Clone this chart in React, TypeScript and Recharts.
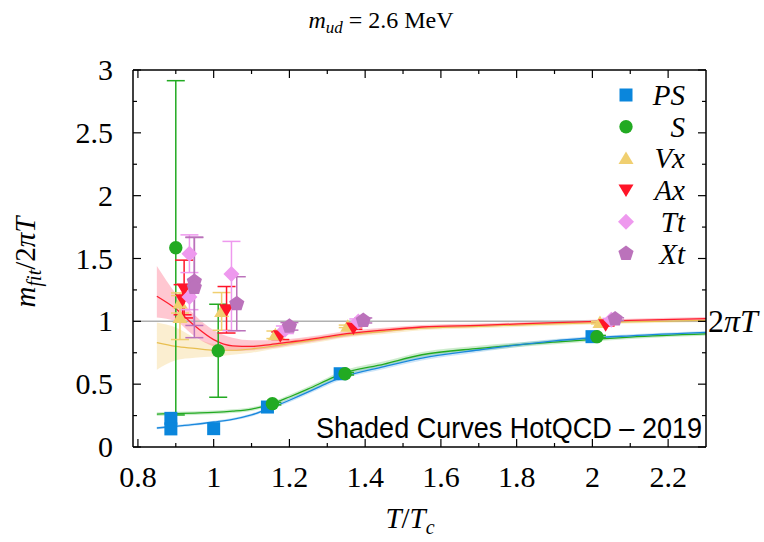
import React from 'react';
import { ComposedChart, Area, Line, Scatter, ErrorBar, XAxis, YAxis, ReferenceLine } from 'recharts';

// HotQCD screening-mass curves (T/Tc grid, central values and bands)
const curveT = [0.85, 0.9, 0.95, 1.0, 1.05, 1.1, 1.15, 1.2, 1.25, 1.3, 1.334, 1.45, 1.55, 1.7, 1.9, 2.1, 2.3];
const redMid = [1.2, 1.1, 0.965, 0.855, 0.805, 0.8, 0.815, 0.835, 0.855, 0.878, 0.894, 0.93, 0.955, 0.968, 0.99, 1.008, 1.022];
const redLo = [1.03, 1.0, 0.88, 0.8, 0.765, 0.77, 0.785, 0.81, 0.832, 0.855, 0.872, 0.912, 0.94, 0.955, 0.978, 0.996, 1.01];
const redHi = [1.44, 1.22, 1.05, 0.93, 0.87, 0.85, 0.85, 0.86, 0.878, 0.9, 0.916, 0.948, 0.97, 0.982, 1.002, 1.02, 1.034];
const yelMid = [0.83, 0.8, 0.785, 0.77, 0.77, 0.78, 0.8, 0.825, 0.845, 0.868, 0.885, 0.92, 0.945, 0.96, 0.98, 0.995, 1.008];
const yelLo = [0.615, 0.69, 0.71, 0.72, 0.735, 0.75, 0.775, 0.8, 0.822, 0.846, 0.865, 0.9, 0.93, 0.945, 0.965, 0.982, 0.995];
const yelHi = [0.99, 0.95, 0.87, 0.82, 0.805, 0.81, 0.825, 0.85, 0.868, 0.89, 0.905, 0.94, 0.96, 0.975, 0.995, 1.008, 1.02];
const grnMid = [0.262, 0.266, 0.27, 0.275, 0.285, 0.302, 0.34, 0.398, 0.462, 0.532, 0.578, 0.66, 0.734, 0.785, 0.835, 0.875, 0.9];
const grnErr = [0.015, 0.015, 0.015, 0.015, 0.015, 0.015, 0.015, 0.018, 0.02, 0.02, 0.02, 0.022, 0.022, 0.02, 0.018, 0.015, 0.015];
const bluMid = [0.151, 0.165, 0.18, 0.199, 0.22, 0.255, 0.31, 0.372, 0.438, 0.508, 0.55, 0.64, 0.708, 0.772, 0.845, 0.885, 0.912];
const bluErr = [0.01, 0.01, 0.01, 0.01, 0.01, 0.012, 0.012, 0.015, 0.016, 0.018, 0.018, 0.02, 0.02, 0.018, 0.015, 0.012, 0.012];

// lattice screening masses m_fit / 2piT per channel
const psT = [0.887, 0.887, 1.0, 1.142, 1.334, 1.999];
const psM = [0.228, 0.144, 0.146, 0.318, 0.583, 0.878];
const sT = [0.9, 1.012, 1.155, 1.347, 2.012];
const sM = [1.585, 0.766, 0.345, 0.583, 0.878];
const sErr = [1.33, 0.37, 0.01, 0.01, 0.01];
const vxT = [0.911, 0.911, 1.021, 1.163, 1.354, 2.02];
const vxM = [1.146, 1.03, 1.079, 0.893, 0.96, 0.99];
const vxErr = [0.08, 0.175, 0.15, 0.03, 0.01, 0.01];
const axT = [0.922, 0.918, 1.034, 1.176, 1.369, 2.035];
const axM = [1.257, 1.172, 1.092, 0.885, 0.947, 0.973];
const axErr = [0.23, 0.12, 0.185, 0.03, 0.01, 0.01];
const ttT = [0.936, 0.936, 1.047, 1.188, 1.382, 2.05];
const ttM = [1.538, 1.193, 1.376, 0.933, 0.999, 1.013];
const ttErr: (number | number[])[] = [0.15, 0.1, [0.45, 0.26], 0.03, 0.02, 0.01];
const xtT = [0.949, 0.949, 1.061, 1.2, 1.395, 2.06];
const xtM = [1.317, 1.27, 1.14, 0.96, 1.007, 1.018];
const xtErr = [0.35, 0.4, 0.215, 0.03, 0.02, 0.01];

const xTicks = [0.8, 0.9, 1.0, 1.1, 1.2, 1.3, 1.4, 1.5, 1.6, 1.7, 1.8, 1.9, 2.0, 2.1, 2.2];
const yTicks = [0, 0.25, 0.5, 0.75, 1, 1.25, 1.5, 1.75, 2, 2.25, 2.5, 2.75, 3];

const C = {
  ps: '#0a86dc',
  s: '#22aa22',
  vx: '#f0cf70',
  ax: '#ff1428',
  tt: '#ee99ee',
  xt: '#bb72bb',
};

const SERIF = '"Liberation Serif", "DejaVu Serif", serif';
const serif = { fontFamily: SERIF };

const curves = curveT.map((x, i) => ({
  x,
  red: redMid[i],
  redBand: [redLo[i], redHi[i]],
  yel: yelMid[i],
  yelBand: [yelLo[i], yelHi[i]],
  grn: grnMid[i],
  grnBand: [grnMid[i] - grnErr[i], grnMid[i] + grnErr[i]],
  blu: bluMid[i],
  bluBand: [bluMid[i] - bluErr[i], bluMid[i] + bluErr[i]],
}));

const pts = (xs: number[], ys: number[], errs?: (number | number[])[]) =>
  xs.map((x, i) => ({ x, y: ys[i], err: errs ? errs[i] : 0 }));

// marker shapes, gnuplot style
const square = (cx: number, cy: number, fill: string) => (
  <rect x={cx - 6.5} y={cy - 6.5} width={13} height={13} fill={fill} />
);
const circle = (cx: number, cy: number, fill: string) => <circle cx={cx} cy={cy} r={6.7} fill={fill} />;
const triUp = (cx: number, cy: number, fill: string) => (
  <polygon points={`${cx},${cy - 7} ${cx - 7.5},${cy + 5.5} ${cx + 7.5},${cy + 5.5}`} fill={fill} />
);
const triDown = (cx: number, cy: number, fill: string) => (
  <polygon points={`${cx},${cy + 7} ${cx - 7.5},${cy - 5.5} ${cx + 7.5},${cy - 5.5}`} fill={fill} />
);
const diamond = (cx: number, cy: number, fill: string) => (
  <polygon points={`${cx},${cy - 8} ${cx + 8},${cy} ${cx},${cy + 8} ${cx - 8},${cy}`} fill={fill} />
);
const pentagon = (cx: number, cy: number, fill: string) => {
  const p = [0, 1, 2, 3, 4]
    .map((k) => {
      const a = -Math.PI / 2 + (k * 2 * Math.PI) / 5;
      return `${cx + 8 * Math.cos(a)},${cy + 8 * Math.sin(a)}`;
    })
    .join(' ');
  return <polygon points={p} fill={fill} />;
};

const shapeOf = (fn: typeof square, fill: string) => (p: any) => <g>{fn(p.cx, p.cy, fill)}</g>;

const isMajorX = (v: number) => Math.abs(v * 5 - Math.round(v * 5)) < 1e-6;
const isMajorY = (v: number) => Math.abs(v * 2 - Math.round(v * 2)) < 1e-6;
const fmt = (v: number) => String(Math.round(v * 10) / 10);

const BottomTick = (p: any) => {
  const v = p.payload.value;
  const major = isMajorX(v);
  return (
    <g>
      <line x1={p.x} x2={p.x} y1={p.y} y2={p.y - (major ? 8 : 4)} stroke="#000" strokeWidth={1.2} />
      {major && (
        <text x={p.x} y={p.y + 40} textAnchor="middle" style={serif} fontSize={30} fill="#000">
          {fmt(v)}
        </text>
      )}
    </g>
  );
};

const TopTick = (p: any) => {
  const major = isMajorX(p.payload.value);
  return <line x1={p.x} x2={p.x} y1={p.y} y2={p.y + (major ? 8 : 4)} stroke="#000" strokeWidth={1.2} />;
};

const LeftTick = (p: any) => {
  const v = p.payload.value;
  const major = isMajorY(v);
  return (
    <g>
      <line x1={p.x} x2={p.x + (major ? 8 : 4)} y1={p.y} y2={p.y} stroke="#000" strokeWidth={1.2} />
      {major && (
        <text x={p.x - 20} y={p.y + 10} textAnchor="end" style={serif} fontSize={30} fill="#000">
          {fmt(v)}
        </text>
      )}
    </g>
  );
};

const RightTick = (p: any) => {
  const major = isMajorY(p.payload.value);
  return <line x1={p.x} x2={p.x - (major ? 8 : 4)} y1={p.y} y2={p.y} stroke="#000" strokeWidth={1.2} />;
};

const TwoPiT = (p: any) => {
  const vb = p.viewBox || { x: 0, y: 0, width: 0 };
  return (
    <text x={vb.x + vb.width + 2} y={vb.y + 11} style={serif} fontSize={32} fill="#000">
      <tspan>2</tspan>
      <tspan fontStyle="italic">πT</tspan>
    </text>
  );
};

const legendRows = [
  { name: 'PS', fn: square, color: C.ps },
  { name: 'S', fn: circle, color: C.s },
  { name: 'Vx', fn: triUp, color: C.vx },
  { name: 'Ax', fn: triDown, color: C.ax },
  { name: 'Tt', fn: diamond, color: C.tt },
  { name: 'Xt', fn: pentagon, color: C.xt },
];

export default function App() {
  return (
    <div style={{ position: 'absolute', left: 0, top: 0, width: 764, height: 542, background: '#fff', fontFamily: SERIF }}>
      <ComposedChart width={764} height={542} data={curves} margin={{ top: 60, right: 48, bottom: 65, left: 73 }}>
        <XAxis
          dataKey="x"
          type="number"
          domain={[0.787, 2.3]}
          allowDataOverflow
          ticks={xTicks}
          interval={0}
          height={30}
          tickSize={0}
          tickMargin={0}
          tickLine={false}
          tick={<BottomTick />}
          axisLine={{ stroke: '#000', strokeWidth: 1.5 }}
        />
        <XAxis
          xAxisId="top"
          orientation="top"
          dataKey="x"
          type="number"
          domain={[0.787, 2.3]}
          allowDataOverflow
          ticks={xTicks}
          interval={0}
          height={10}
          tickSize={0}
          tickMargin={0}
          tickLine={false}
          tick={<TopTick />}
          axisLine={{ stroke: '#000', strokeWidth: 1.5 }}
        />
        <YAxis
          type="number"
          domain={[0, 3]}
          allowDataOverflow
          ticks={yTicks}
          interval={0}
          width={60}
          tickSize={0}
          tickMargin={0}
          tickLine={false}
          tick={<LeftTick />}
          axisLine={{ stroke: '#000', strokeWidth: 1.5 }}
        />
        <YAxis
          yAxisId="right"
          orientation="right"
          type="number"
          domain={[0, 3]}
          allowDataOverflow
          ticks={yTicks}
          interval={0}
          width={10}
          tickSize={0}
          tickMargin={0}
          tickLine={false}
          tick={<RightTick />}
          axisLine={{ stroke: '#000', strokeWidth: 1.5 }}
        />

        <Area dataKey="yelBand" type="monotone" stroke="none" fill="#f5d58a" fillOpacity={0.4} isAnimationActive={false} />
        <Area dataKey="redBand" type="monotone" stroke="none" fill="#ff5070" fillOpacity={0.32} isAnimationActive={false} />
        <Area dataKey="grnBand" type="monotone" stroke="none" fill="#22aa22" fillOpacity={0.22} isAnimationActive={false} />
        <Area dataKey="bluBand" type="monotone" stroke="none" fill="#1a88dd" fillOpacity={0.22} isAnimationActive={false} />

        <ReferenceLine y={1} stroke="#b0b0b0" strokeWidth={1.5} label={<TwoPiT />} />

        <Line dataKey="yel" type="monotone" stroke="#e8bf50" strokeWidth={1.2} dot={false} isAnimationActive={false} />
        <Line dataKey="red" type="monotone" stroke="#ff1e2e" strokeWidth={1.3} dot={false} isAnimationActive={false} />
        <Line dataKey="grn" type="monotone" stroke="#22aa22" strokeWidth={1.3} dot={false} isAnimationActive={false} />
        <Line dataKey="blu" type="monotone" stroke="#1a88dd" strokeWidth={1.3} dot={false} isAnimationActive={false} />

        <Scatter data={pts(psT, psM)} dataKey="y" shape={shapeOf(square, C.ps)} isAnimationActive={false} />
        <Scatter data={pts(sT, sM, sErr)} dataKey="y" shape={shapeOf(circle, C.s)} isAnimationActive={false}>
          <ErrorBar dataKey="err" direction="y" width={9} stroke={C.s} strokeWidth={1.5} />
        </Scatter>
        <Scatter data={pts(vxT, vxM, vxErr)} dataKey="y" shape={shapeOf(triUp, C.vx)} isAnimationActive={false}>
          <ErrorBar dataKey="err" direction="y" width={9} stroke={C.vx} strokeWidth={1.5} />
        </Scatter>
        <Scatter data={pts(axT, axM, axErr)} dataKey="y" shape={shapeOf(triDown, C.ax)} isAnimationActive={false}>
          <ErrorBar dataKey="err" direction="y" width={9} stroke={C.ax} strokeWidth={1.5} />
        </Scatter>
        <Scatter data={pts(ttT, ttM, ttErr)} dataKey="y" shape={shapeOf(diamond, C.tt)} isAnimationActive={false}>
          <ErrorBar dataKey="err" direction="y" width={9} stroke={C.tt} strokeWidth={1.5} />
        </Scatter>
        <Scatter data={pts(xtT, xtM, xtErr)} dataKey="y" shape={shapeOf(pentagon, C.xt)} isAnimationActive={false}>
          <ErrorBar dataKey="err" direction="y" width={9} stroke={C.xt} strokeWidth={1.5} />
        </Scatter>

        {/* title and axis titles */}
        <text x={381} y={28} textAnchor="middle" style={serif} fontSize={24} fill="#000">
          <tspan fontStyle="italic">m</tspan>
          <tspan fontStyle="italic" fontSize={17} dy={5}>ud</tspan>
          <tspan dy={-5}> = 2.6 MeV</tspan>
        </text>
        <text transform="translate(35,262) rotate(-90)" textAnchor="middle" style={serif} fontSize={29} fill="#000">
          <tspan fontStyle="italic">m</tspan>
          <tspan fontStyle="italic" fontSize={20} dy={6}>fit</tspan>
          <tspan dy={-6}>/2</tspan>
          <tspan fontStyle="italic">πT</tspan>
        </text>
        <text x={410} y={528} textAnchor="middle" style={serif} fontSize={29} fill="#000">
          <tspan fontStyle="italic">T</tspan>
          <tspan>/</tspan>
          <tspan fontStyle="italic">T</tspan>
          <tspan fontStyle="italic" fontSize={20} dy={6}>c</tspan>
        </text>

        <text
          x={316}
          y={438}
          style={{ fontFamily: '"Liberation Sans", sans-serif' }}
          fontSize={30}
          textLength={386}
          lengthAdjust="spacingAndGlyphs"
          fill="#000"
        >
          Shaded Curves HotQCD – 2019
        </text>

        {/* key */}
        {legendRows.map((r, i) => {
          const cy = 95 + i * 31.7;
          return (
            <g key={r.name}>
              {r.fn(626, cy, r.color)}
              <text x={685} y={cy + 10} textAnchor="end" style={serif} fontStyle="italic" fontSize={29} fill="#000">
                {r.name}
              </text>
            </g>
          );
        })}
      </ComposedChart>
    </div>
  );
}
